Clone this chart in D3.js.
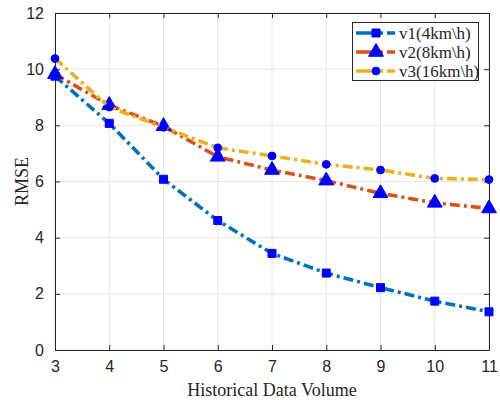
<!DOCTYPE html>
<html>
<head>
<meta charset="utf-8">
<script src="https://cdn.jsdelivr.net/npm/d3@7"></script>
<style>
html,body{margin:0;padding:0;background:#fff;}
</style>
</head>
<body>
<svg id="chart" width="500" height="400"></svg>
<script>
const xValues = [3, 4, 5, 6, 7, 8, 9, 10, 11];
const v1 = [9.75, 8.07, 6.08, 4.61, 3.44, 2.74, 2.22, 1.74, 1.36];
const v2 = [9.82, 8.72, 7.97, 6.88, 6.41, 6.03, 5.58, 5.24, 5.04];
const v3 = [10.38, 8.65, 7.93, 7.2, 6.91, 6.61, 6.41, 6.11, 6.07];
const seriesNames = ["v1(4km\\h)", "v2(8km\\h)", "v3(16km\\h)"];
const xTicks = [3, 4, 5, 6, 7, 8, 9, 10, 11];
const yTicks = [0, 2, 4, 6, 8, 10, 12];

const svg = d3.select("#chart");
const L = 55, R = 489, T = 13, B = 350;
const x = d3.scaleLinear().domain([3, 11]).range([L, R]);
const y = d3.scaleLinear().domain([0, 12]).range([B, T]);
const axisColor = "#262626";

// grid
const g = svg.append("g");
g.selectAll(".gx").data(xTicks).enter().append("line")
  .attr("x1", d => x(d)).attr("x2", d => x(d)).attr("y1", T).attr("y2", B)
  .attr("stroke", "#e6e6e6").attr("stroke-width", 1);
g.selectAll(".gy").data(yTicks).enter().append("line")
  .attr("y1", d => y(d)).attr("y2", d => y(d)).attr("x1", L).attr("x2", R)
  .attr("stroke", "#e6e6e6").attr("stroke-width", 1);

// axes
const fontSans = "'Liberation Sans', Arial, sans-serif";
const fontSerif = "'Liberation Serif', 'Times New Roman', serif";
function styleAxis(sel){
  sel.select(".domain").attr("stroke", axisColor);
  sel.selectAll(".tick line").attr("stroke", axisColor);
  sel.selectAll(".tick text").attr("fill", axisColor).style("font-family", fontSans).style("font-size", "16px");
}
const xAxis = svg.append("g").attr("transform", `translate(0,${B})`)
  .call(d3.axisBottom(x).tickValues(xTicks).tickSizeInner(-5).tickSizeOuter(0).tickPadding(11));
styleAxis(xAxis);
const xAxisTop = svg.append("g").attr("transform", `translate(0,${T})`)
  .call(d3.axisTop(x).tickValues(xTicks).tickSizeInner(-5).tickSizeOuter(0).tickFormat(""));
styleAxis(xAxisTop);
const yAxis = svg.append("g").attr("transform", `translate(${L},0)`)
  .call(d3.axisLeft(y).tickValues(yTicks).tickSizeInner(-5).tickSizeOuter(0).tickPadding(11));
styleAxis(yAxis);
const yAxisR = svg.append("g").attr("transform", `translate(${R},0)`)
  .call(d3.axisRight(y).tickValues(yTicks).tickSizeInner(-5).tickSizeOuter(0).tickFormat(""));
styleAxis(yAxisR);

// labels
svg.append("text").attr("x", (L + R) / 2).attr("y", 396).attr("text-anchor", "middle")
  .style("font-family", fontSerif).style("font-size", "18px").attr("fill", axisColor)
  .text("Historical Data Volume");
svg.append("text").attr("transform", `translate(28,${(T + B) / 2}) rotate(-90)`).attr("text-anchor", "middle")
  .style("font-family", fontSerif).style("font-size", "18px").attr("fill", axisColor)
  .text("RMSE");

// series
const colors = ["#0072BD", "#D95319", "#EDB120"];
const markerTypes = [d3.symbolSquare, d3.symbolTriangle, d3.symbolCircle];
const markerSizes = [64, 95, 48];
const allSeries = [v1, v2, v3];
const dash = "10,4,3,4";
const line = d3.line().x((d, i) => x(xValues[i])).y(d => y(d));

allSeries.forEach((s, k) => {
  svg.append("path").datum(s).attr("d", line)
    .attr("fill", "none").attr("stroke", colors[k]).attr("stroke-width", 3.6)
    .attr("stroke-dasharray", dash);
  svg.selectAll(".m" + k).data(s).enter().append("path")
    .attr("transform", (d, i) => `translate(${x(xValues[i])},${y(d)})`)
    .attr("d", d3.symbol().type(markerTypes[k]).size(markerSizes[k]))
    .attr("fill", "#0000FF").attr("stroke", "#0000FF").attr("stroke-width", 1);
});

// legend
const lg = svg.append("g");
lg.append("rect").attr("x", 352.5).attr("y", 22.5).attr("width", 126).attr("height", 58)
  .attr("fill", "#fff").attr("stroke", axisColor).attr("stroke-width", 1);
const rowsY = [33, 52, 71];
seriesNames.forEach((name, k) => {
  lg.append("line").attr("x1", 356).attr("x2", 395).attr("y1", rowsY[k]).attr("y2", rowsY[k])
    .attr("stroke", colors[k]).attr("stroke-width", 3.6).attr("stroke-dasharray", "20,4,3,4,8");
  lg.append("path").attr("transform", `translate(376,${rowsY[k]})`)
    .attr("d", d3.symbol().type(markerTypes[k]).size(markerSizes[k]))
    .attr("fill", "#0000FF").attr("stroke", "#0000FF");
  lg.append("text").attr("x", 399).attr("y", rowsY[k] + 6)
    .style("font-family", fontSerif).style("font-size", "17px").attr("fill", axisColor)
    .text(name);
});
</script>
</body>
</html>
